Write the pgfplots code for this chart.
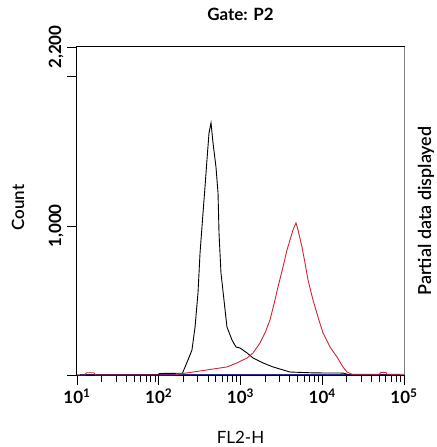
\documentclass[border=0pt]{standalone}
\usepackage{fontspec}
\setmainfont{Lato}
\newfontfamily\semi{Lato Semibold}
\usepackage{pgfplots}
\pgfplotsset{compat=1.18}
\definecolor{histred}{RGB}{200,40,55}
\definecolor{histblue}{RGB}{45,45,150}
\begin{document}
\begin{tikzpicture}
\begin{axis}[
  name=main,
  scale only axis,
  width=327bp, height=328bp,
  font=\fontsize{17}{20}\selectfont,
  xmode=log, log basis x=10,
  xmin=10, xmax=100000,
  ymin=0, ymax=2200,
  xtick={10,100,1000,10000,100000},
  xticklabels={10\textsuperscript{1},10\textsuperscript{2},10\textsuperscript{3},10\textsuperscript{4},10\textsuperscript{5}},
  minor xtick={20,30,40,50,60,70,80,90,200,300,400,500,600,700,800,900,
    2000,3000,4000,5000,6000,7000,8000,9000,20000,30000,40000,50000,60000,70000,80000,90000},
  ytick={0,1000,2000,2200},
  yticklabels={,{1,000},,{2,200}},
  tick label style={font=\bfseries\fontsize{17}{20}\selectfont},
  yticklabel style={rotate=90,anchor=south},
  tick align=outside,
  xtick pos=bottom, ytick pos=left,
  major tick length=10bp, minor tick length=7bp,
  tick style={black,line width=0.8bp},
  axis line style={line width=1bp},
  title={\bfseries Gate: P2},
  title style={at={(axis description cs:0.5,1)},anchor=center,yshift=27bp},
  xlabel={FL2-H},
  xlabel style={at={(axis description cs:0.5,-0.19)},anchor=center,inner sep=0pt},
  ylabel={\semi Count},
  ylabel style={at={(axis description cs:-0.18,0.51)},anchor=center,inner sep=0pt},
]
% blue (near-zero) histogram
\addplot[histblue, line width=1bp] coordinates {
(11,2) (100,2) (1000,2) (10000,2) (90000,2)
};
% black histogram
\addplot[black, line width=0.9bp] coordinates {
(10,0) (100,0) (101,10) (195,12) (228,101) (255,168) (278,322) (302,550)
(320,819) (348,1087) (368,1262) (389,1443) (412,1624) (436,1691)
(461,1557) (501,1396) (531,1221) (546,953) (577,685) (628,503)
(683,322) (787,235) (881,188) (986,181) (1202,148) (1423,114)
(1884,81) (2498,54) (3311,34) (4030,20) (8000,14) (17950,13) (21900,0) (100000,0)
};
% red histogram
\addplot[histred, line width=0.9bp] coordinates {
(10,0) (12.5,0) (13,15) (16,15) (17,0) (150,0) (198,10) (389,34) (683,54)
(906,81) (1202,114) (1423,148) (1733,215) (1995,282) (2296,369)
(2642,503) (2876,591) (3311,725) (3707,839) (4033,906) (4387,973)
(4775,1020) (5050,973) (5649,859) (6150,752) (6695,638) (7709,503)
(8869,389) (10211,282) (12437,188) (15141,121) (17932,54) (20077,20)
(23100,5) (50000,5) (52000,18) (60000,18) (62000,5) (100000,5)
};
\end{axis}
\draw[gray,line width=1bp] (main.south east) -- (main.north east);
\node[rotate=90,anchor=center,inner sep=0pt,font=\semi\fontsize{18}{21}\selectfont]
  at ([xshift=22bp]main.east) {Partial data displayed};
% page margins as in the reference
\path ([xshift=-77bp,yshift=-72bp]main.south west)
  rectangle ([xshift=33bp,yshift=47bp]main.north east);
\end{tikzpicture}
\end{document}
